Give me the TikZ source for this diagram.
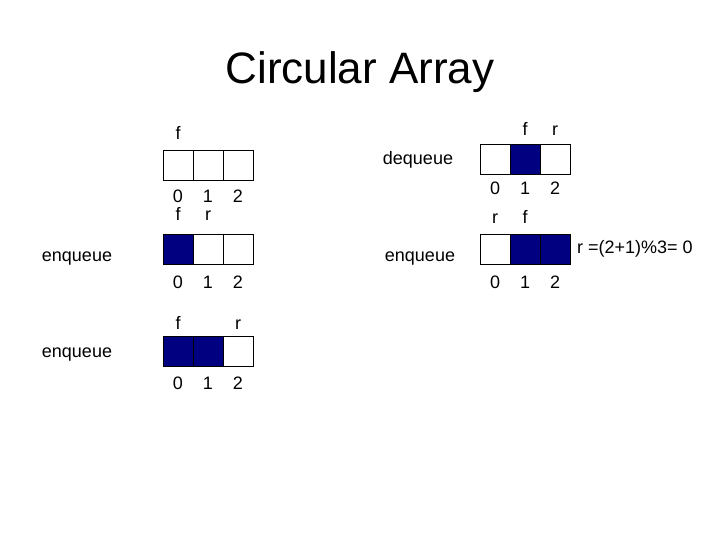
\documentclass[tikz,border=0pt]{standalone}
\usepackage{fontspec}
\setmainfont{Liberation Sans}
\definecolor{navy}{RGB}{0,0,128}

\begin{document}
\begin{tikzpicture}[x=1pt, y=-1pt,
    cell/.style={draw, line width=0.8pt, minimum width=30pt, minimum height=30pt, inner sep=0pt},
    lbl/.style={font=\fontsize{18}{20}\selectfont, inner sep=0pt, anchor=base}]
    \useasboundingbox (0,0) rectangle (720,540);
    \node[font=\fontsize{44}{48}\selectfont, inner sep=0pt, anchor=base] (title) at (360,84) {Circular Array};
    % left column
    \node[lbl] (fa) at (178,140) {f};
    \foreach \i/\c in {0/white,1/white,2/white}
    {
        \node[cell, fill=\c] (a\i) at (178+30*\i,165) {};
        \node[lbl] (ai\i) at (178+30*\i,203) {\i};
    }
    \node[lbl] (enqb) at (77,261) {enqueue};
    \node[lbl] (fb) at (178,221) {f};
    \node[lbl] (rb) at (208,221) {r};
    \foreach \i/\c in {0/navy,1/white,2/white}
    {
        \node[cell, fill=\c] (b\i) at (178+30*\i,249) {};
        \node[lbl] (bi\i) at (178+30*\i,288) {\i};
    }
    \node[lbl] (enqc) at (77,357) {enqueue};
    \node[lbl] (fc) at (178,329) {f};
    \node[lbl] (rc) at (238,329) {r};
    \foreach \i/\c in {0/navy,1/navy,2/white}
    {
        \node[cell, fill=\c] (c\i) at (178+30*\i,351) {};
        \node[lbl] (ci\i) at (178+30*\i,389) {\i};
    }
    % right column
    \node[lbl] (deqd) at (418,165) {dequeue};
    \node[lbl] (fd) at (525,136) {f};
    \node[lbl] (rd) at (555,136) {r};
    \foreach \i/\c in {0/white,1/navy,2/white}
    {
        \node[cell, fill=\c] (d\i) at (495+30*\i,159) {};
        \node[lbl] (di\i) at (495+30*\i,195) {\i};
    }
    \node[lbl] (enqe) at (420,261) {enqueue};
    \node[lbl] (re) at (495,223) {r};
    \node[lbl] (fe) at (525,223) {f};
    \foreach \i/\c in {0/white,1/navy,2/navy}
    {
        \node[cell, fill=\c] (e\i) at (495+30*\i,249) {};
        \node[lbl] (ei\i) at (495+30*\i,288) {\i};
    }
    \node[lbl, anchor=base west] (calc) at (577,253) {r =(2+1)\%3= 0};
\end{tikzpicture}
\end{document}
